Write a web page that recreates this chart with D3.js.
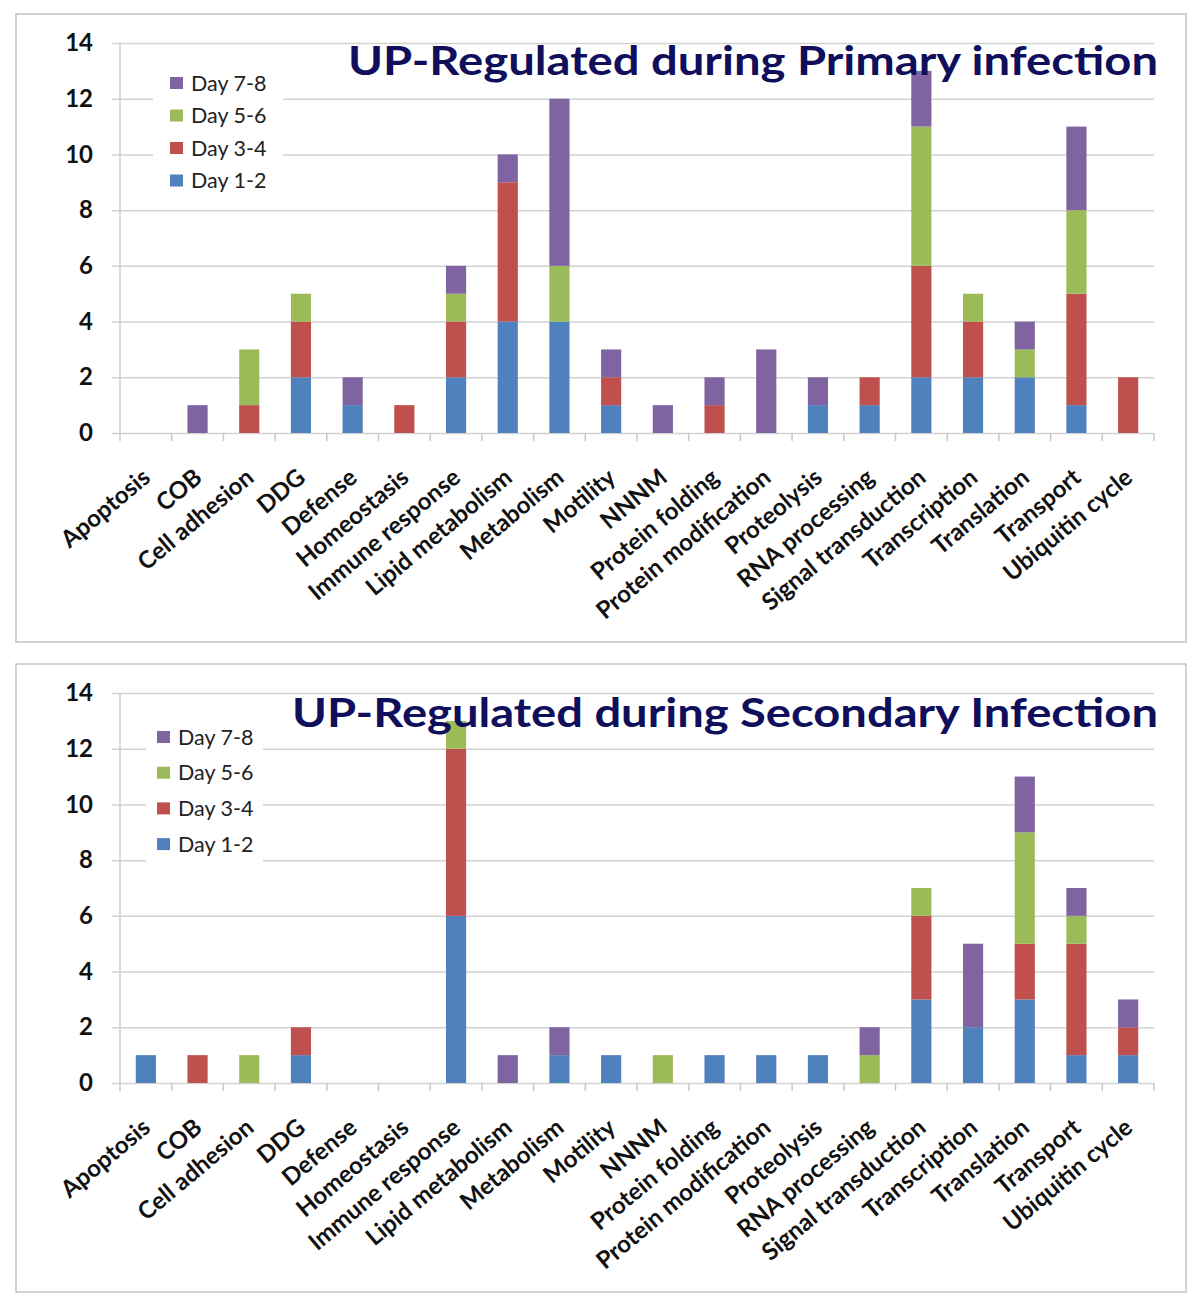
<!DOCTYPE html>
<html>
<head>
<meta charset="utf-8">
<script src="https://cdn.jsdelivr.net/npm/d3@7"></script>
<style>
  body { margin: 0; background: #fff; }
  text { font-family: Lato, "Open Sans", sans-serif; }
</style>
</head>
<body>
<div id="app"></div>
<script>
// categories + series
let categories = ["Apoptosis", "COB", "Cell adhesion", "DDG", "Defense", "Homeostasis",
  "Immune response", "Lipid metabolism", "Metabolism", "Motility", "NNNM", "Protein folding",
  "Protein modification", "Proteolysis", "RNA processing", "Signal transduction",
  "Transcription", "Translation", "Transport", "Ubiquitin cycle"]
let series = ["Day 1-2", "Day 3-4", "Day 5-6", "Day 7-8"]
let colors = ["#4F81BD", "#C0504D", "#9BBB59", "#8064A2"]
let yTicks = [0, 2, 4, 6, 8, 10, 12, 14]

// Primary infection
let primary_d12 = [0, 0, 0, 2, 1, 0, 2, 4, 4, 1, 0, 0, 0, 1, 1, 2, 2, 2, 1, 0]
let primary_d34 = [0, 0, 1, 2, 0, 1, 2, 5, 0, 1, 0, 1, 0, 0, 1, 4, 2, 0, 4, 2]
let primary_d56 = [0, 0, 2, 1, 0, 0, 1, 0, 2, 0, 0, 0, 0, 0, 0, 5, 1, 1, 3, 0]
let primary_d78 = [0, 1, 0, 0, 1, 0, 1, 1, 6, 1, 1, 1, 3, 1, 0, 2, 0, 1, 3, 0]

// Secondary infection
let secondary_d12 = [1, 0, 0, 1, 0, 0, 6, 0, 1, 1, 0, 1, 1, 1, 0, 3, 2, 3, 1, 1]
let secondary_d34 = [0, 1, 0, 1, 0, 0, 6, 0, 0, 0, 0, 0, 0, 0, 0, 3, 0, 2, 4, 1]
let secondary_d56 = [0, 0, 1, 0, 0, 0, 1, 0, 0, 0, 1, 0, 0, 0, 1, 1, 0, 4, 1, 0]
let secondary_d78 = [0, 0, 0, 0, 0, 0, 0, 1, 1, 0, 0, 0, 0, 0, 1, 0, 3, 2, 1, 1]

let width = 1200
let height = 1305

let svg = d3.select("#app").append("svg")
    .attr("width", width)
    .attr("height", height)

let x = d3.scaleBand().domain(categories).range([120, 1154]).padding(0)
let color = d3.scaleOrdinal().domain(series).range(colors)

function buildTable(cols) {
    return categories.map((c, i) => {
        let row = {cat: c}
        series.forEach((s, j) => row[s] = cols[j][i])
        return row
    })
}

function drawPanel(top, title, cols, legendBox) {
    let g = svg.append("g").attr("transform", "translate(0," + top + ")")

    // frame
    g.append("rect")
        .attr("x", 16).attr("y", 14)
        .attr("width", 1170).attr("height", 628)
        .attr("fill", "none")
        .attr("stroke", "#c4c4c4")
        .attr("stroke-width", 1.5)

    let y = d3.scaleLinear().domain([0, 14]).range([433, 43])

    // gridlines + y labels
    let yAxis = g.append("g")
        .attr("transform", "translate(112,0)")
        .call(d3.axisLeft(y).tickValues(yTicks).tickSize(-(1154 - 112)).tickPadding(19))
    yAxis.select(".domain").remove()
    yAxis.selectAll("line").attr("stroke", "#d2d2d2").attr("stroke-width", 1.5)
    yAxis.selectAll("text")
        .attr("font-size", 24)
        .attr("font-weight", "bold")
        .attr("fill", "#111")

    // y axis line
    g.append("line")
        .attr("x1", 120).attr("x2", 120)
        .attr("y1", y(14)).attr("y2", y(0))
        .attr("stroke", "#cfcfcf").attr("stroke-width", 1.5)

    // x ticks at band edges
    let edges = categories.map(c => x(c)).concat([x.range()[1]])
    g.append("g").selectAll("line")
        .data(edges)
        .join("line")
        .attr("x1", d => d).attr("x2", d => d)
        .attr("y1", y(0)).attr("y2", y(0) + 8)
        .attr("stroke", "#c8c8c8").attr("stroke-width", 1.5)

    // stacked bars
    let stacked = d3.stack().keys(series)(buildTable(cols))
    let bw = x.bandwidth() * 0.39
    g.append("g").selectAll("g")
        .data(stacked)
        .join("g")
        .attr("fill", d => color(d.key))
        .selectAll("rect")
        .data(d => d.filter(v => v[1] > v[0]))
        .join("rect")
        .attr("x", d => x(d.data.cat) + (x.bandwidth() - bw) / 2)
        .attr("width", bw)
        .attr("y", d => y(d[1]))
        .attr("height", d => y(d[0]) - y(d[1]))

    // category labels
    g.append("g").selectAll("text")
        .data(categories)
        .join("text")
        .attr("transform", c => "translate(" + (x(c) + x.bandwidth() / 2 + 6) + "," + (y(0) + 47) + ") rotate(-40)")
        .attr("text-anchor", "end")
        .attr("font-size", 24)
        .attr("font-weight", "bold")
        .attr("fill", "#111")
        .text(c => c)

    // legend (white box hides gridlines)
    let lg = g.append("g")
    lg.append("rect")
        .attr("x", legendBox.x).attr("y", legendBox.y)
        .attr("width", legendBox.w).attr("height", legendBox.h)
        .attr("fill", "#fff")
    let order = series.slice().reverse()
    let items = lg.selectAll("g.item")
        .data(order)
        .join("g")
        .attr("class", "item")
        .attr("transform", (d, i) => "translate(" + legendBox.sx + "," + (legendBox.y0 + i * legendBox.step) + ")")
    items.append("rect")
        .attr("x", 0).attr("y", -6)
        .attr("width", 13).attr("height", 12)
        .attr("fill", d => color(d))
    items.append("text")
        .attr("x", 21).attr("y", 7.5)
        .attr("font-size", 21.5)
        .attr("fill", "#222")
        .text(d => d)

    // title on top of everything
    g.append("text")
        .attr("x", 1158).attr("y", title.y)
        .attr("text-anchor", "end")
        .attr("font-family", "'Open Sans', sans-serif")
        .attr("font-weight", "bold")
        .attr("font-size", 40)
        .attr("fill", "#0f0f5c")
        .attr("textLength", title.len)
        .attr("lengthAdjust", "spacingAndGlyphs")
        .text(title.text)
}

drawPanel(0,
    {text: "UP-Regulated during Primary infection", y: 75, len: 810},
    [primary_d12, primary_d34, primary_d56, primary_d78],
    {x: 153, y: 64, w: 130, h: 132, sx: 170, y0: 83, step: 32.5})

drawPanel(650,
    {text: "UP-Regulated during Secondary Infection", y: 77, len: 866},
    [secondary_d12, secondary_d34, secondary_d56, secondary_d78],
    {x: 146, y: 68, w: 117, h: 148, sx: 157, y0: 87, step: 35.7})
</script>
</body>
</html>
